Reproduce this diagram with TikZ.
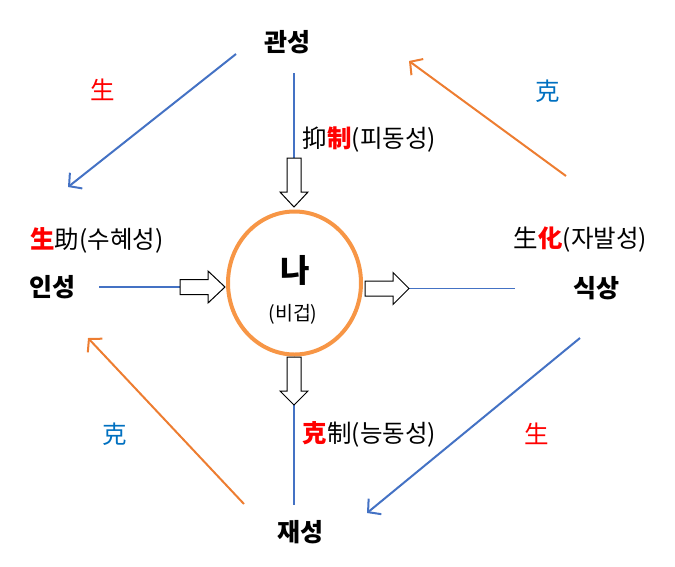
\documentclass[tikz,border=0pt]{standalone}
\usepackage{fontspec}
\setmainfont{Noto Sans CJK KR}
\usetikzlibrary{arrows.meta,shapes.geometric}
\definecolor{lineblue}{HTML}{4472C4}
\definecolor{lineorange}{HTML}{ED7D31}
\definecolor{ringorange}{HTML}{F79646}
\definecolor{txtred}{HTML}{FF0000}
\definecolor{txtblue}{HTML}{0070C0}
\tikzset{
  lbl/.style={font=\fontsize{25}{28}\selectfont\bfseries, inner sep=0pt},
  note/.style={font=\fontsize{24.5}{27}\selectfont, inner sep=0pt},
  thin/.style={draw=lineblue, line width=1.3pt},
  bluearr/.style={draw=lineblue, line width=2pt, -{Straight Barb[length=9pt,width=20pt,line width=2pt]}},
  orangearr/.style={draw=lineorange, line width=2pt, -{Straight Barb[length=9pt,width=20pt,line width=2pt]}},
  hollow/.style={draw=black, line width=1pt, fill=white, line join=miter},
}
\begin{document}
\begin{tikzpicture}[x=1pt,y=-1pt]
\useasboundingbox (0,0) rectangle (675,566);

% centre ring
\node[draw=ringorange, line width=4pt, ellipse, minimum width=133pt, minimum height=143pt, inner sep=0pt] (me) at (294.5,283) {};
\node[font=\fontsize{32}{34}\selectfont\bfseries, inner sep=0pt] (na) at (295,270) {나};
\node[font=\fontsize{19.5}{21}\selectfont, inner sep=0pt] (bg) at (293,314) {(비겁)};

% outer labels
\node[lbl] (gw) at (287,42) {관성};
\node[lbl] (is) at (52.5,287) {인성};
\node[lbl] (ss) at (596,288) {식상};
\node[lbl] (js) at (300,532) {재성};

% annotation texts
\node[note] (t1) at (369.5,140) {抑\textcolor{txtred}{\bfseries 制}(피동성)};
\node[note] (t2) at (97,240) {\textcolor{txtred}{\bfseries 生}助(수혜성)};
\node[note] (t3) at (580.5,240) {生\textcolor{txtred}{\bfseries 化}(자발성)};
\node[note] (t4) at (369.5,434) {\textcolor{txtred}{\bfseries 克}制(능동성)};

\node[note, text=txtred] (s1) at (102.5,90) {生};
\node[note, text=txtblue] (k1) at (547.5,91) {克};
\node[note, text=txtblue] (k2) at (115,434) {克};
\node[note, text=txtred] (s2) at (537,434) {生};

% connector end points
\coordinate (a1) at (294,73);   \coordinate (a2) at (294,158);
\coordinate (b1) at (99,287);   \coordinate (b2) at (180,287);
\coordinate (c1) at (409,288.5); \coordinate (c2) at (515,288.5);
\coordinate (d1) at (294,405);  \coordinate (d2) at (294,505);

\draw[thin] (a1) -- (a2);
\draw[thin] (b1) -- (b2);
\draw[thin] (c1) -- (c2);
\draw[thin] (d1) -- (d2);

% hollow block arrows
\draw[hollow] (287,158) -- (301,158) -- (301,192) -- (308,192) -- (294,207) -- (280,192) -- (287,192) -- cycle;
\draw[hollow] (287,357) -- (301,357) -- (301,391) -- (308,391) -- (294,405) -- (280,391) -- (287,391) -- cycle;
\draw[hollow] (180,279.5) -- (208,279.5) -- (208,271) -- (225,287) -- (208,303) -- (208,294.5) -- (180,294.5) -- cycle;
\draw[hollow] (365,281) -- (393,281) -- (393,272.5) -- (409,288.5) -- (393,304.5) -- (393,296) -- (365,296) -- cycle;

% diagonal arrows
\coordinate (e1) at (236,54);  \coordinate (e2) at (68,187);
\coordinate (f1) at (580,338); \coordinate (f2) at (367,513);
\coordinate (g1) at (566,176); \coordinate (g2) at (409,61);
\coordinate (h1) at (244,504); \coordinate (h2) at (88,338);
\draw[bluearr] (e1) -- (e2);
\draw[bluearr] (f1) -- (f2);
\draw[orangearr] (g1) -- (g2);
\draw[orangearr] (h1) -- (h2);
\end{tikzpicture}
\end{document}
